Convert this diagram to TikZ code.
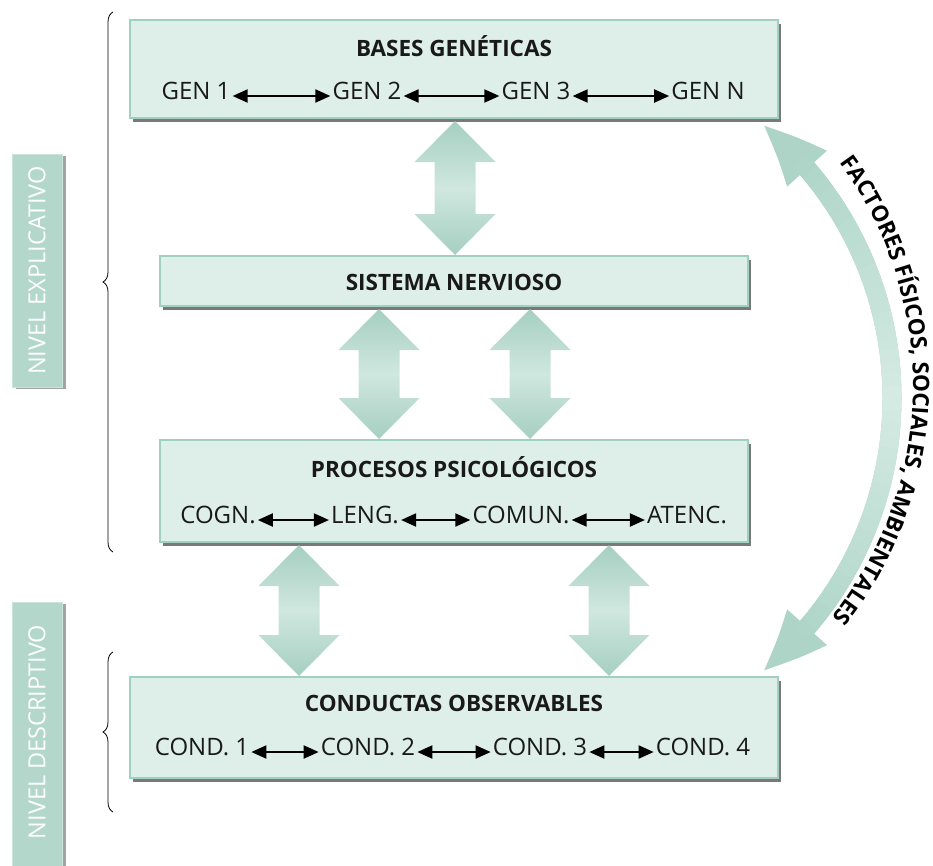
\documentclass[tikz,border=0pt]{standalone}
\usepackage{fontspec}
\setmainfont{Open Sans}
\usetikzlibrary{arrows.meta,bending,decorations.pathreplacing,decorations.text,shadows}
\definecolor{boxfill}{HTML}{DEEEE8}
\definecolor{boxline}{HTML}{A0D0C0}
\definecolor{sidefill}{HTML}{B3D7CB}
\definecolor{arrdark}{HTML}{A5CFC1}
\definecolor{arrlight}{HTML}{D0E7DF}
\definecolor{curvedark}{HTML}{ADD4C7}
\definecolor{curvelight}{HTML}{D5EBE3}
\newcommand\vdarrow[3]{%
\shade[top color=arrdark, bottom color=arrdark, middle color=arrlight]
 (#1,-#2) -- (#1+40.5,-#2-41) -- (#1+20.5,-#2-41) -- (#1+20.5,-#3+41) -- (#1+40.5,-#3+41) -- (#1,-#3) -- (#1-40.5,-#3+41) -- (#1-20.5,-#3+41) -- (#1-20.5,-#2-41) -- (#1-40.5,-#2-41) -- cycle;}
\begin{document}
\begin{tikzpicture}[x=1pt,y=1pt,
  box/.style={draw=boxline, line width=1.5pt, fill=boxfill, drop shadow={shadow xshift=3pt,shadow yshift=-4pt,fill=black!75,opacity=.7}, inner sep=0pt},
  sidebox/.style={draw=sidefill!70!white, line width=1pt, fill=sidefill, drop shadow={shadow xshift=4pt,shadow yshift=-2pt,fill=black!60,opacity=.6}, inner sep=0pt},
  ttl/.style={font=\fontsize{22.5}{22.5}\selectfont\bfseries, text=black!90},
  itm/.style={font=\fontsize{24}{24}\selectfont, inner sep=1pt, text height=0.714em, text depth=0pt, text=black!90},
  dbl/.style={{Triangle[length=15pt,width=13pt]}-{Triangle[length=15pt,width=13pt]}, line width=2pt, shorten <=1pt, shorten >=1pt},
  sidetxt/.style={font=\fontsize{23.5}{23.5}\selectfont, text=white, rotate=90},
  brc/.style={decorate, decoration={brace, amplitude=10pt}, line width=0.8pt}
]
\useasboundingbox (0,0) rectangle (933,-865);

% side labels
\node[sidebox, minimum width=50pt, minimum height=233pt] (s1) at (37,-270.5) {};
\node[sidetxt] (s1t) at (s1) {NIVEL EXPLICATIVO};
\node[sidebox, minimum width=50pt, minimum height=266pt] (s2) at (37,-735) {};
\node[sidetxt] (s2t) at (37,-732) {NIVEL DESCRIPTIVO};

% braces
\draw[brc] (113,-552) -- (113,-12);
\draw[brc] (113,-812) -- (113,-652);

% boxes
\node[box, minimum width=648pt, minimum height=98pt] (b1) at (454,-69) {};
\node[box, minimum width=588pt, minimum height=50pt] (b2) at (454,-281) {};
\node[box, minimum width=588pt, minimum height=102pt] (b3) at (454,-491) {};
\node[box, minimum width=648pt, minimum height=101pt] (b4) at (454,-727.5) {};

% big arrows
\vdarrow{455}{121}{255}
\vdarrow{379}{309}{439}
\vdarrow{530}{309}{439}
\vdarrow{299}{545}{676}
\vdarrow{609}{545}{676}

% box 1
\node[ttl] (t1) at (454,-46) {BASES GENÉTICAS};
\node[itm] (g1) at (196,-96) {GEN 1};
\node[itm] (g2) at (367,-96) {GEN 2};
\node[itm] (g3) at (536,-96) {GEN 3};
\node[itm] (g4) at (708,-96) {GEN N};
\draw[dbl] (g1) -- (g2);
\draw[dbl] (g2) -- (g3);
\draw[dbl] (g3) -- (g4);

% box 2
\node[ttl] (t2) at (454,-282) {SISTEMA NERVIOSO};

% box 3
\node[ttl] (t3) at (454,-467) {PROCESOS PSICOLÓGICOS};
\node[itm] (p1) at (218,-520) {COGN.};
\node[itm] (p2) at (365,-520) {LENG.};
\node[itm] (p3) at (521,-520) {COMUN.};
\node[itm] (p4) at (687,-520) {ATENC.};
\draw[dbl] (p1) -- (p2);
\draw[dbl] (p2) -- (p3);
\draw[dbl] (p3) -- (p4);

% box 4
\node[ttl] (t4) at (454,-703) {CONDUCTAS OBSERVABLES};
\node[itm] (c1) at (202,-752) {COND. 1};
\node[itm] (c2) at (368,-752) {COND. 2};
\node[itm] (c3) at (540,-752) {COND. 3};
\node[itm] (c4) at (703,-752) {COND. 4};
\draw[dbl] (c1) -- (c2);
\draw[dbl] (c2) -- (c3);
\draw[dbl] (c3) -- (c4);

% curved arrow
\draw[curvedark, line width=19pt, {Triangle[bend,length=64pt,width=48pt]}-{Triangle[bend,length=64pt,width=48pt]}]
  (540,-398) ++(51:352) arc[start angle=51, end angle=-51, radius=352];
\foreach \a in {-42,-40,...,40}{
  \pgfmathtruncatemacro\p{max(0,100-100*abs(\a+1)/44)}
  \draw[line width=19pt, color=curvelight!\p!curvedark]
    (540,-398) ++(\a+2.4:352) arc[start angle=\a+2.4, end angle=\a, radius=352];
}
\path[decorate, decoration={text along path, text align=center,
  text={|\fontsize{22.5}{22.5}\selectfont\bfseries|FACTORES FÍSICOS, SOCIALES, AMBIENTALES}}]
  (540,-385) ++(62:373) arc[start angle=62, end angle=-64, radius=373];
\end{tikzpicture}
\end{document}
